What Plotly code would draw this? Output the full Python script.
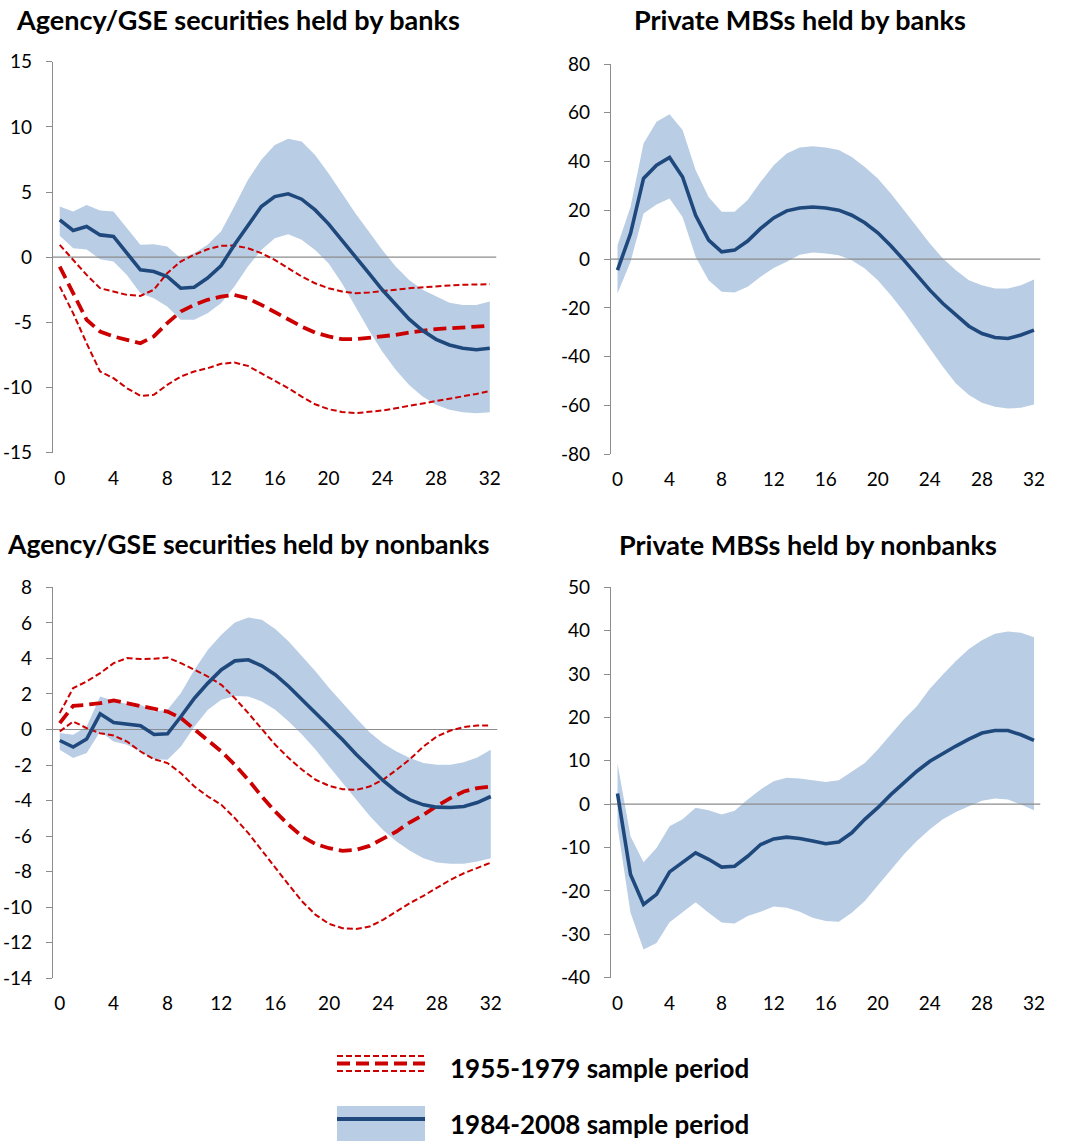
import plotly.graph_objects as go

W, H = 1069, 1141

periods = list(range(33))
x_tick_vals = list(range(0, 33, 4))

# ---------------- Panel 1: Agency/GSE securities held by banks ----------------
p1_new_mid = [2.86, 2.05, 2.35, 1.71, 1.59, 0.3, -0.97, -1.1, -1.48, -2.38, -2.3, -1.6, -0.66,
              0.95, 2.48, 3.89, 4.65, 4.86, 4.45, 3.63, 2.56, 1.33, 0.05, -1.23, -2.5, -3.66,
              -4.76, -5.63, -6.3, -6.73, -6.98, -7.1, -6.98]
p1_new_hi = [3.89, 3.5, 4.0, 3.58, 3.5, 2.2, 0.95, 1.0, 0.82, -0.08, 0.3, 0.95, 1.97, 3.9,
             5.93, 7.47, 8.6, 9.08, 8.87, 7.85, 6.44, 4.9, 3.38, 1.97, 0.56, -0.72, -1.74,
             -2.5, -3.0, -3.5, -3.66, -3.66, -3.4]
p1_new_lo = [1.64, 0.69, 0.6, -0.15, -0.33, -1.36, -2.76, -3.15, -3.79, -4.8, -4.8, -4.3,
             -3.53, -2.25, -0.72, 0.56, 1.46, 1.76, 1.33, 0.56, -0.46, -2.0, -3.79, -5.58,
             -7.24, -8.64, -9.8, -10.69, -11.33, -11.7, -11.9, -11.97, -11.9]
p1_old_mid = [-0.72, -2.76, -4.8, -5.7, -6.08, -6.34, -6.6, -6.08, -5.06, -4.17, -3.66, -3.27,
              -3.02, -2.9, -3.15, -3.66, -4.17, -4.76, -5.32, -5.78, -6.08, -6.29, -6.29, -6.2,
              -6.08, -5.96, -5.78, -5.63, -5.52, -5.45, -5.37, -5.32, -5.27]
p1_old_hi = [0.95, -0.2, -1.36, -2.38, -2.63, -2.89, -2.97, -2.5, -1.23, -0.33, 0.18, 0.61,
             0.87, 0.9, 0.69, 0.31, -0.2, -0.84, -1.48, -2.0, -2.38, -2.63, -2.76, -2.71,
             -2.63, -2.5, -2.38, -2.3, -2.25, -2.17, -2.12, -2.1, -2.07]
p1_old_lo = [-2.25, -4.3, -6.6, -8.77, -9.28, -10.05, -10.64, -10.56, -9.8, -9.16, -8.77,
             -8.52, -8.18, -8.08, -8.34, -8.9, -9.46, -10.05, -10.69, -11.28, -11.66, -11.87,
             -11.97, -11.89, -11.76, -11.59, -11.41, -11.2, -11.0, -10.84, -10.64, -10.49, -10.26]

# ---------------- Panel 2: Private MBSs held by banks ----------------
p2_new_mid = [-4.5, 10.5, 33.1, 38.5, 41.7, 33.7, 18.0, 7.8, 3.0, 3.7, 7.4, 12.6, 16.9, 19.8,
              21.0, 21.4, 21.0, 20.1, 18.0, 14.9, 10.8, 5.5, -0.4, -6.6, -12.7, -18.2, -23.0,
              -27.5, -30.5, -32.1, -32.5, -31.1, -29.1]
p2_new_hi = [5.7, 21.4, 47.4, 56.3, 59.4, 52.9, 36.5, 25.5, 19.4, 19.4, 24.2, 31.7, 38.5, 43.3,
             45.8, 46.3, 45.8, 44.7, 41.9, 37.8, 33.1, 26.9, 20.1, 13.3, 6.4, 0.3, -4.5, -8.6,
             -10.7, -12.0, -12.0, -10.7, -8.3]
p2_new_lo = [-14.1, -1.1, 18.7, 22.4, 24.9, 17.3, 1.0, -8.6, -13.4, -13.7, -11.3, -7.2, -3.6,
             -1.1, 1.8, 2.7, 2.3, 1.6, -0.4, -3.8, -8.6, -14.8, -21.6, -29.1, -36.6, -44.1,
             -51.0, -55.7, -58.9, -60.5, -61.2, -60.9, -59.6]

# ---------------- Panel 3: Agency/GSE securities held by nonbanks ----------------
p3_new_mid = [-0.62, -0.99, -0.54, 0.88, 0.39, 0.30, 0.21, -0.28, -0.24, 0.73, 1.76, 2.61,
              3.36, 3.86, 3.92, 3.58, 3.08, 2.42, 1.67, 0.96, 0.21, -0.58, -1.39, -2.14,
              -2.87, -3.49, -3.96, -4.24, -4.37, -4.39, -4.33, -4.11, -3.77]
p3_new_hi = [-0.2, -0.3, 0.17, 1.86, 1.61, 1.44, 1.39, 1.01, 1.11, 2.05, 3.36, 4.48, 5.33,
             6.02, 6.30, 6.17, 5.65, 4.95, 4.11, 3.26, 2.33, 1.48, 0.64, -0.15, -0.77, -1.24,
             -1.61, -1.89, -1.99, -1.99, -1.84, -1.58, -1.14]
p3_new_lo = [-1.14, -1.61, -1.33, -0.11, -0.68, -0.86, -1.24, -1.67, -1.71, -0.96, 0.17, 1.11,
             1.67, 1.89, 1.86, 1.58, 1.11, 0.45, -0.3, -1.14, -2.08, -3.02, -3.96, -4.86,
             -5.65, -6.30, -6.83, -7.24, -7.49, -7.56, -7.56, -7.43, -7.24]
p3_old_mid = [0.36, 1.33, 1.39, 1.48, 1.63, 1.48, 1.33, 1.14, 1.01, 0.64, 0.02, -0.58, -1.24,
              -1.99, -2.83, -3.77, -4.62, -5.37, -6.02, -6.45, -6.68, -6.83, -6.77, -6.55,
              -6.17, -5.74, -5.22, -4.8, -4.3, -3.86, -3.49, -3.30, -3.21]
p3_old_hi = [0.92, 2.33, 2.7, 3.17, 3.73, 4.02, 3.96, 3.98, 4.05, 3.73, 3.36, 2.98, 2.51,
             1.76, 0.92, 0.02, -0.86, -1.61, -2.27, -2.83, -3.17, -3.36, -3.40, -3.21, -2.83,
             -2.27, -1.67, -0.96, -0.39, -0.06, 0.13, 0.23, 0.23]
p3_old_lo = [-0.11, 0.45, 0.08, -0.21, -0.34, -0.68, -1.24, -1.67, -1.89, -2.46, -3.21, -3.77,
             -4.24, -4.99, -5.83, -6.77, -7.77, -8.74, -9.68, -10.43, -10.94, -11.18, -11.22,
             -11.09, -10.71, -10.24, -9.77, -9.36, -8.93, -8.46, -8.09, -7.8, -7.49]

# ---------------- Panel 4: Private MBSs held by nonbanks ----------------
p4_new_mid = [2.46, -16.2, -23.1, -20.8, -15.6, -13.5, -11.2, -12.7, -14.5, -14.3, -12.0,
              -9.3, -8.0, -7.6, -7.9, -8.5, -9.1, -8.7, -6.6, -3.5, -0.8, 2.2, 4.9, 7.6, 9.9,
              11.7, 13.4, 15.0, 16.4, 17.0, 17.0, 16.0, 14.7]
p4_new_hi = [9.4, -7.4, -13.4, -10.1, -5.1, -3.5, -0.8, -1.4, -2.4, -1.5, 1.1, 3.4, 5.3, 6.1,
             5.9, 5.5, 5.1, 5.5, 7.4, 9.5, 12.6, 16.0, 19.6, 22.6, 26.6, 29.9, 33.0, 35.8,
             37.8, 39.3, 39.8, 39.5, 38.5]
p4_new_lo = [-5.1, -25.0, -33.5, -32.0, -27.2, -25.0, -22.6, -25.0, -27.3, -27.5, -25.8, -24.8,
             -23.6, -23.9, -24.8, -26.2, -26.9, -27.1, -25.0, -22.3, -18.7, -15.0, -11.6, -8.5,
             -5.8, -3.5, -1.8, -0.5, 0.8, 1.3, 1.1, -0.1, -1.4]

titles = ["Agency/GSE securities held by banks", "Private MBSs held by banks",
          "Agency/GSE securities held by nonbanks", "Private MBSs held by nonbanks"]
legend_labels = ["1955-1979 sample period", "1984-2008 sample period"]

y_ranges = [(-15, 15, 5), (-80, 80, 20), (-14, 8, 2), (-40, 50, 10)]

BAND = "#B9CDE5"
BLUE = "#1F497D"
RED = "#CC0000"
AXIS_GREY = "#8C8C8C"
FONT = "Lato"

# pixel layout of each plot area: (left, right, bottom, top)
panel_px = [(53, 496.5, 452.7, 61.7), (611, 1040.5, 454.3, 64.0),
            (53, 497.5, 978.3, 587.3), (611, 1040.5, 977.7, 587.3)]

panels = [
    (p1_new_mid, p1_new_lo, p1_new_hi, (p1_old_mid, p1_old_lo, p1_old_hi)),
    (p2_new_mid, p2_new_lo, p2_new_hi, None),
    (p3_new_mid, p3_new_lo, p3_new_hi, (p3_old_mid, p3_old_lo, p3_old_hi)),
    (p4_new_mid, p4_new_lo, p4_new_hi, None),
]

fig = go.Figure()
xlo, xhi = periods[0] - 0.5, periods[-1] + 0.5

for i, (mid, lo, hi, old) in enumerate(panels):
    n = i + 1
    xa = "x" if n == 1 else f"x{n}"
    ya = "y" if n == 1 else f"y{n}"
    fig.add_trace(go.Scatter(x=periods, y=lo, mode="lines", line=dict(width=0, color=BAND),
                             showlegend=False, hoverinfo="skip", xaxis=xa, yaxis=ya))
    fig.add_trace(go.Scatter(x=periods, y=hi, mode="lines", line=dict(width=0, color=BAND),
                             fill="tonexty", fillcolor=BAND, showlegend=False,
                             hoverinfo="skip", xaxis=xa, yaxis=ya))
    fig.add_trace(go.Scatter(x=[xlo, xhi], y=[0, 0], mode="lines",
                             line=dict(width=1.2, color=AXIS_GREY), showlegend=False,
                             hoverinfo="skip", xaxis=xa, yaxis=ya))
    if old is not None:
        o_mid, o_lo, o_hi = old
        for arr in (o_hi, o_lo):
            fig.add_trace(go.Scatter(x=periods, y=arr, mode="lines",
                                     line=dict(width=2, color=RED, dash="6px,3px"),
                                     showlegend=False, xaxis=xa, yaxis=ya))
        fig.add_trace(go.Scatter(x=periods, y=o_mid, mode="lines",
                                 line=dict(width=3.8, color=RED, dash="13px,6px"),
                                 showlegend=False, xaxis=xa, yaxis=ya))
    fig.add_trace(go.Scatter(x=periods, y=mid, mode="lines",
                             line=dict(width=3.6, color=BLUE), showlegend=False,
                             xaxis=xa, yaxis=ya))

layout = dict(width=W, height=H,
              margin=dict(l=0, r=0, t=0, b=0, pad=0, autoexpand=False),
              paper_bgcolor="white", plot_bgcolor="white", showlegend=False,
              font=dict(family=FONT, size=18, color="#000000"))

for i, (l, r, b, t) in enumerate(panel_px):
    n = i + 1
    xkey = "xaxis" if n == 1 else f"xaxis{n}"
    ykey = "yaxis" if n == 1 else f"yaxis{n}"
    ymin, ymax, ystep = y_ranges[i]
    yvals = list(range(ymin, ymax + 1, ystep))
    layout[xkey] = dict(domain=[l / W, r / W], range=[xlo, xhi], tickvals=x_tick_vals,
                        showgrid=False, zeroline=False, showline=False, ticks="",
                        ticklabelstandoff=12, tickfont=dict(family=FONT, size=19),
                        automargin=False,
                        anchor="y" if n == 1 else f"y{n}", fixedrange=True)
    layout[ykey] = dict(domain=[1 - b / H, 1 - t / H], range=[ymin, ymax],
                        tickvals=yvals, ticktext=[str(v) for v in yvals],
                        showgrid=False, zeroline=False, showline=True, linecolor=AXIS_GREY,
                        linewidth=1.2, ticks="outside", ticklen=6, tickcolor=AXIS_GREY,
                        tickwidth=1.2, ticklabelstandoff=10, automargin=False,
                        tickfont=dict(family=FONT, size=19),
                        anchor="x" if n == 1 else f"x{n}", fixedrange=True)

fig.update_layout(**layout)

title_px = [(238, 20), (800, 20), (248, 544), (808, 544)]
title_sizes = [27, 27, 26.6, 27]
for txt, (px, py), fs in zip(titles, title_px, title_sizes):
    fig.add_annotation(text=f"<b>{txt}</b>", x=px / W, y=1 - py / H, xref="paper",
                       yref="paper", xanchor="center", yanchor="middle", showarrow=False,
                       font=dict(family=FONT, size=fs, color="#000000"))

sx0, sx1 = 337 / W, 425 / W
fig.add_shape(type="line", xref="paper", yref="paper", x0=sx0, x1=sx1,
              y0=1 - 1056 / H, y1=1 - 1056 / H, line=dict(color=RED, width=2, dash="6px,3px"))
fig.add_shape(type="line", xref="paper", yref="paper", x0=sx0, x1=sx1,
              y0=1 - 1071 / H, y1=1 - 1071 / H, line=dict(color=RED, width=2, dash="6px,3px"))
fig.add_shape(type="line", xref="paper", yref="paper", x0=sx0, x1=sx1,
              y0=1 - 1063.5 / H, y1=1 - 1063.5 / H,
              line=dict(color=RED, width=3.8, dash="13px,6px"))
fig.add_shape(type="rect", xref="paper", yref="paper", x0=sx0, x1=sx1,
              y0=0, y1=1 - 1106 / H, line=dict(width=0), fillcolor=BAND)
fig.add_shape(type="line", xref="paper", yref="paper", x0=sx0, x1=sx1,
              y0=1 - 1119 / H, y1=1 - 1119 / H, line=dict(color=BLUE, width=4))
for txt, py in zip(legend_labels, (1068, 1124)):
    fig.add_annotation(text=f"<b>{txt}</b>", x=448 / W, y=1 - py / H, xref="paper",
                       yref="paper", xanchor="left", yanchor="middle", showarrow=False,
                       font=dict(family=FONT, size=26, color="#000000"))

fig.write_html("out.html")
